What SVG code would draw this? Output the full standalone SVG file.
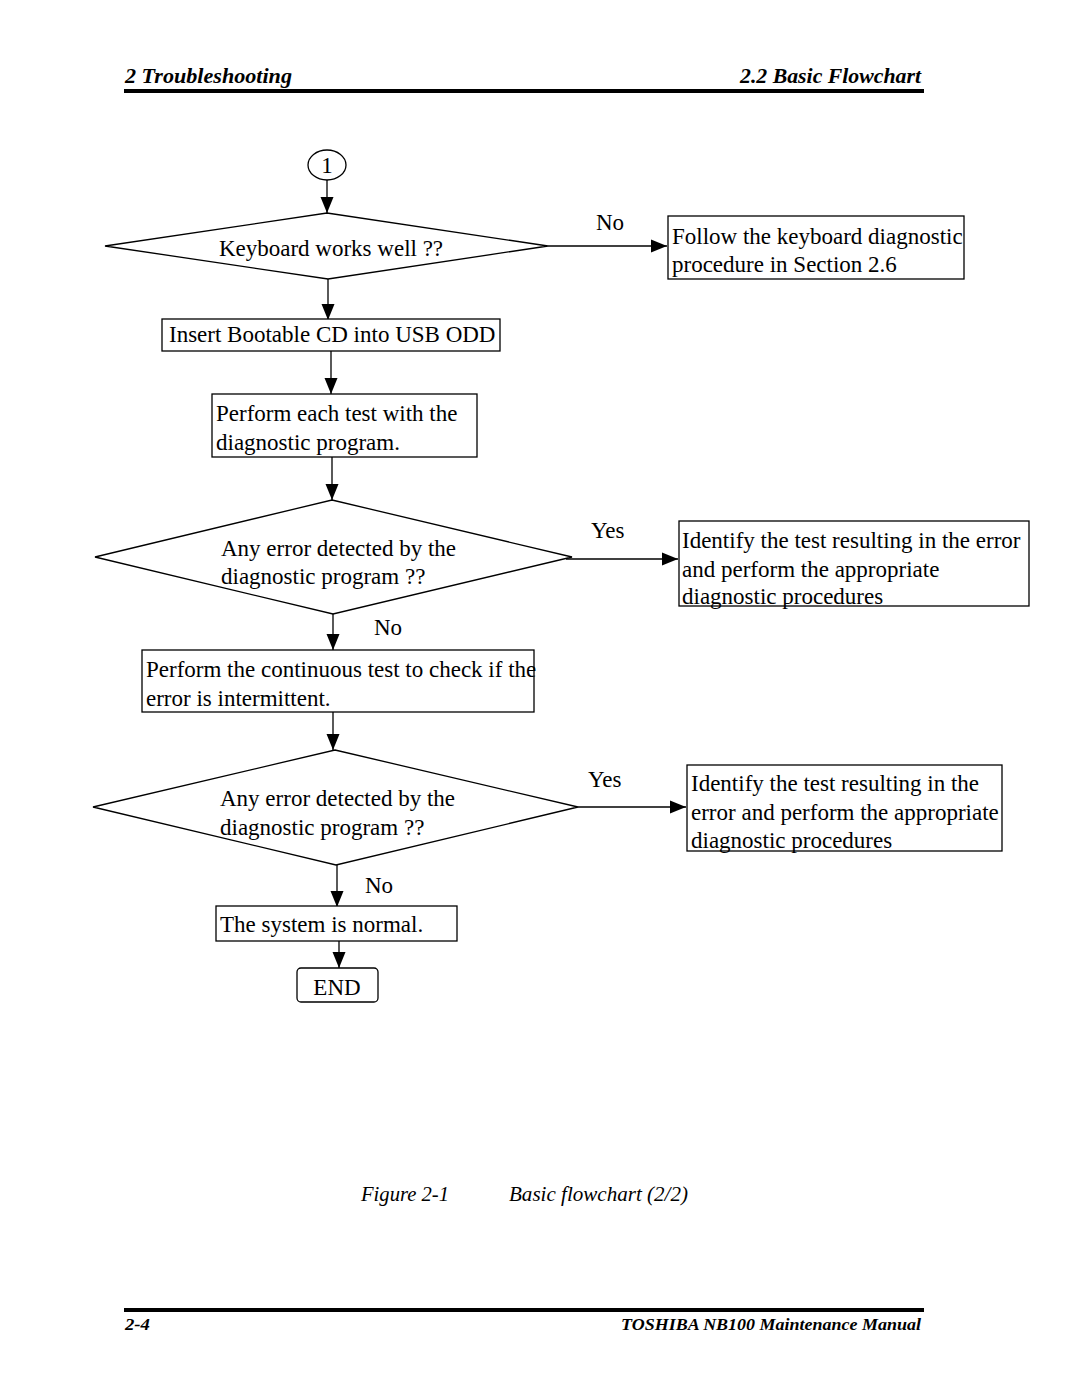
<svg xmlns="http://www.w3.org/2000/svg" width="1080" height="1397" viewBox="0 0 1080 1397">
<style>
.t{font-family:"Liberation Serif","Times New Roman",serif;font-size:23px;fill:#000}
.h{font-family:"Liberation Serif","Times New Roman",serif;font-size:21px;font-weight:bold;font-style:italic;fill:#000}
.f{font-family:"Liberation Serif","Times New Roman",serif;font-size:17px;font-weight:bold;font-style:italic;fill:#000}
.c{font-family:"Liberation Serif","Times New Roman",serif;font-size:20px;font-style:italic;fill:#000}
.s{fill:#fff;stroke:#000;stroke-width:1.3}
.l{fill:none;stroke:#000;stroke-width:1.3}
</style>
<defs>
<marker id="ah" markerUnits="userSpaceOnUse" markerWidth="18" markerHeight="14" refX="16" refY="7" orient="auto">
<path d="M0,0.5 L16,7 L0,13.5 Z" fill="#000"/>
</marker>
</defs>
<rect width="1080" height="1397" fill="#fff"/>
<g id="header">
<text class="h" x="125" y="83" textLength="167" lengthAdjust="spacingAndGlyphs">2  Troubleshooting</text>
<text class="h" x="740" y="83" textLength="181" lengthAdjust="spacingAndGlyphs">2.2  Basic Flowchart</text>
<rect x="124" y="89" width="800" height="4" fill="#000"/>
</g>
<g id="connectors">
<line class="l" x1="327" y1="180" x2="327" y2="213" marker-end="url(#ah)"/>
<line class="l" x1="548" y1="246" x2="667" y2="246" marker-end="url(#ah)"/>
<line class="l" x1="328" y1="279" x2="328" y2="320" marker-end="url(#ah)"/>
<line class="l" x1="331" y1="351" x2="331" y2="394" marker-end="url(#ah)"/>
<line class="l" x1="332" y1="457" x2="332" y2="500" marker-end="url(#ah)"/>
<line class="l" x1="566" y1="559" x2="678" y2="559" marker-end="url(#ah)"/>
<line class="l" x1="333" y1="614" x2="333" y2="650" marker-end="url(#ah)"/>
<line class="l" x1="333" y1="712" x2="333" y2="750" marker-end="url(#ah)"/>
<line class="l" x1="578" y1="807" x2="686" y2="807" marker-end="url(#ah)"/>
<line class="l" x1="337" y1="865" x2="337" y2="907" marker-end="url(#ah)"/>
<line class="l" x1="339" y1="941" x2="339" y2="968" marker-end="url(#ah)"/>
<text class="t" x="596" y="230">No</text>
<text class="t" x="591" y="538">Yes</text>
<text class="t" x="374" y="635">No</text>
<text class="t" x="588" y="787">Yes</text>
<text class="t" x="365" y="893">No</text>
</g>
<g id="start">
<ellipse class="s" cx="327" cy="165" rx="19" ry="15"/>
<text class="t" x="327" y="173" text-anchor="middle">1</text>
</g>
<g id="d1">
<polygon class="s" points="327,213 548,246 328,279 105,246"/>
<text class="t" x="331" y="256" text-anchor="middle">Keyboard works well ??</text>
</g>
<g id="kbd">
<rect class="s" x="668" y="216" width="296" height="63"/>
<text class="t" x="672" y="244">Follow the keyboard diagnostic</text>
<text class="t" x="672" y="272">procedure in Section 2.6</text>
</g>
<g id="insert">
<rect class="s" x="162" y="319" width="338" height="32"/>
<text class="t" x="169" y="342">Insert Bootable CD into USB ODD</text>
</g>
<g id="perform">
<rect class="s" x="212" y="394" width="265" height="63"/>
<text class="t" x="216" y="421">Perform each test with the</text>
<text class="t" x="216" y="450">diagnostic program.</text>
</g>
<g id="d2">
<polygon class="s" points="332,500 572,557 333,614 95,557"/>
<text class="t" x="221" y="556">Any error detected by the</text>
<text class="t" x="221" y="584">diagnostic program ??</text>
</g>
<g id="identify1">
<rect class="s" x="679" y="521" width="350" height="85"/>
<text class="t" x="682" y="548">Identify the test resulting in the error</text>
<text class="t" x="682" y="577">and perform the appropriate</text>
<text class="t" x="682" y="604">diagnostic procedures</text>
</g>
<g id="continuous">
<rect class="s" x="142" y="650" width="392" height="62"/>
<text class="t" x="146" y="677">Perform the continuous test to check if the</text>
<text class="t" x="146" y="706">error is intermittent.</text>
</g>
<g id="d3">
<polygon class="s" points="335,750 578,807 336,865 93,807"/>
<text class="t" x="220" y="806">Any error detected by the</text>
<text class="t" x="220" y="835">diagnostic program ??</text>
</g>
<g id="identify2">
<rect class="s" x="687" y="765" width="315" height="86"/>
<text class="t" x="691" y="791">Identify the test resulting in the</text>
<text class="t" x="691" y="820">error and perform the appropriate</text>
<text class="t" x="691" y="848">diagnostic procedures</text>
</g>
<g id="normal">
<rect class="s" x="216" y="906" width="241" height="35"/>
<text class="t" x="220" y="932">The system is normal.</text>
</g>
<g id="end">
<rect class="s" x="297" y="968" width="81" height="34" rx="4"/>
<text class="t" x="337" y="995" text-anchor="middle">END</text>
</g>
<g id="caption">
<text class="c" x="361" y="1201" textLength="88" lengthAdjust="spacingAndGlyphs">Figure 2-1</text>
<text class="c" x="509" y="1201" textLength="179" lengthAdjust="spacingAndGlyphs">Basic flowchart (2/2)</text>
</g>
<g id="footer">
<rect x="124" y="1308" width="800" height="4" fill="#000"/>
<text class="f" x="125" y="1330" textLength="25" lengthAdjust="spacingAndGlyphs">2-4</text>
<text class="f" x="621" y="1330" textLength="300" lengthAdjust="spacingAndGlyphs">TOSHIBA NB100  Maintenance Manual</text>
</g>
</svg>
